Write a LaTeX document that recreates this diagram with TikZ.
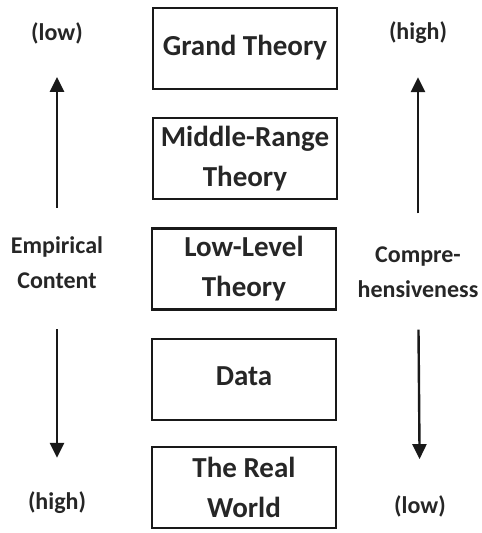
\documentclass[tikz,border=0pt]{standalone}
\usepackage{fontspec}
\setmainfont{Carlito}
\usetikzlibrary{arrows.meta}

\begin{document}
\begin{tikzpicture}[x=1pt,y=-1pt,
    level/.style={draw=black!90,line width=2.6pt,minimum width=184pt,minimum height=81pt,
      inner sep=0pt,align=center,text=black!85,font=\bfseries\fontsize{29}{40}\selectfont},
    side/.style={inner sep=0pt,align=center,text=black!85,font=\bfseries\fontsize{24}{35}\selectfont},
    trend/.style={draw=black!90,line width=2.4pt,-{Triangle[length=15pt,width=14pt]}}]
      \useasboundingbox (0,0) rectangle (482,533);

      % Levels of theory
      \node[level,text depth=7pt] (grand) at (245,48.5) {Grand Theory};
      \node[level] (middle) at (245,158.5) {Middle-Range\\Theory};
      \node[level] (lowlevel) at (244,269) {Low-Level\\Theory};
      \node[level,text depth=7pt] (data) at (244,379.5) {Data};
      \node[level] (world) at (244,487.5) {The Real\\World};

      % Empirical content (left)
      \node[side] (emplow) at (57,33) {(low)};
      \node[side] (emp) at (57,263) {Empirical\\Content};
      \node[side] (emphigh) at (57,503) {(high)};
      \draw[trend,shorten <=29pt,shorten >=33pt] (emp) -- (emplow);
      \draw[trend,shorten <=40pt,shorten >=34pt] (emp) -- (emphigh);

      % Comprehensiveness (right)
      \node[side] (comphigh) at (418,33) {(high)};
      \node[side] (comp) at (418,272) {Compre-\\hensiveness};
      \node[side] (complow) at (420,506) {(low)};
      \draw[trend,shorten <=33pt,shorten >=33pt] (comp) -- (comphigh);
      \draw[trend,shorten <=32pt,shorten >=36pt] (comp) -- (complow);
    \end{tikzpicture}
\end{document}
